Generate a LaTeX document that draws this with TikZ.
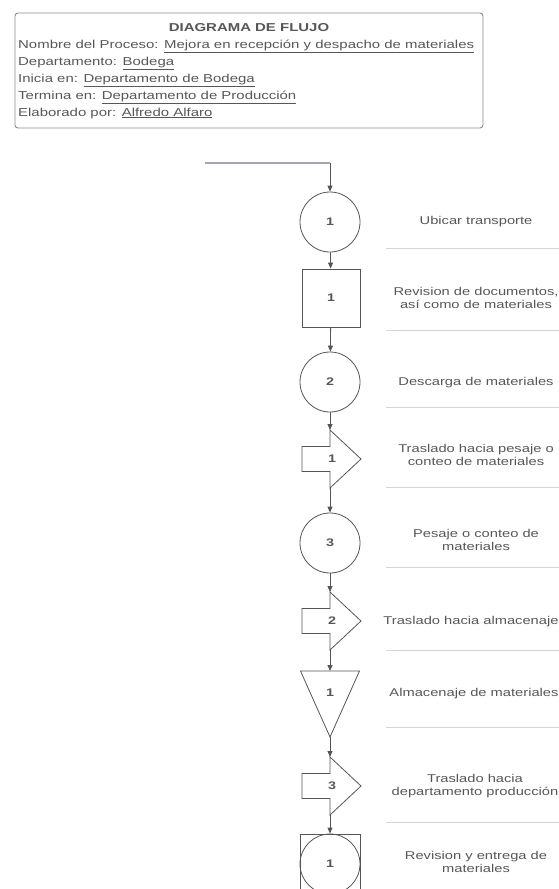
\documentclass[tikz,border=0pt]{standalone}
\usepackage{fontspec}
\setmainfont{Liberation Sans}
\newfontfamily\lab[FakeStretch=1.3]{Liberation Sans}
\usetikzlibrary{arrows.meta}
\definecolor{ink}{HTML}{575757}
\definecolor{lnk}{HTML}{555555}
\definecolor{divc}{HTML}{E0D0D6}
\definecolor{boxc}{HTML}{8A8A8A}
\definecolor{entc}{HTML}{A8A4B4}
\begin{document}
\begin{tikzpicture}[x=1pt,y=-1pt,
  sym/.style={draw=lnk,line width=0.8pt,text=ink,font=\lab\bfseries\fontsize{11}{12}\selectfont,inner sep=0pt},
  opc/.style={sym,circle,minimum size=60pt},
  insp/.style={sym,rectangle,minimum size=58pt},
  num/.style={text=ink,font=\lab\bfseries\fontsize{11}{12}\selectfont,inner sep=0pt},
  conn/.style={draw=lnk,line width=0.8pt,-{Triangle[length=6pt,width=5pt]}},
  plain/.style={draw=lnk,line width=0.8pt},
  entry/.style={draw=entc,line width=1.8pt},
  lbl/.style={text=ink,font=\lab\fontsize{11.3}{12.5}\selectfont,align=center,inner sep=0pt},
  divl/.style={draw=divc,line width=0.9pt},
  hdr/.style={text=ink,font=\lab\fontsize{11.5}{17}\selectfont,anchor=base west,inner sep=0pt},
  hbox/.style={draw=boxc,line width=0.9pt,rounded corners=3pt,inner sep=0pt},
  transp/.pic={
    \draw[plain] (0,-29) -- (31,0) -- (0,29) -- (0,12.5) -- (-28,12.5) -- (-28,-12.5) -- (0,-12.5) -- cycle;
    \coordinate (-top) at (0,-29);
    \coordinate (-bot) at (0,29);
  },
  storep/.pic={
    \draw[plain] (-29.5,-33) -- (29.5,-33) -- (0,33) -- cycle;
    \coordinate (-top) at (0,-33);
    \coordinate (-bot) at (0,33);
  }
]
\useasboundingbox (0,0) rectangle (559,889);
\clip (0,0) rectangle (559,889);

% header
\node[hbox,minimum width=468pt,minimum height=115pt] (hdrbox) at (249,70.5) {};
\node[text=ink,font=\lab\bfseries\fontsize{11.5}{14}\selectfont,anchor=base,inner sep=0pt] (title) at (249,31) {DIAGRAMA DE FLUJO};
\node[hdr] (h1) at (18,48) {Nombre del Proceso: \underline{Mejora en recepción y despacho de materiales}};
\node[hdr] (h2) at (18,65) {Departamento: \underline{Bodega}};
\node[hdr] (h3) at (18,82) {Inicia en: \underline{Departamento de Bodega}};
\node[hdr] (h4) at (18,99) {Termina en: \underline{Departamento de Producción}};
\node[hdr] (h5) at (18,116) {Elaborado por: \underline{Alfredo Alfaro}};

% entry line
\coordinate (start) at (205,163);
\coordinate (bend) at (330,163);
\draw[entry] (start) -- (bend);

% symbols
\node[opc] (c1) at (330,222) {1};
\node[insp] (sq1) at (331,298) {1};
\node[opc] (c2) at (330,382) {2};
\pic (t1) at (330,459) {transp};
\node[num] (n1) at (332,459) {1};
\node[opc] (c3) at (330,543) {3};
\pic (t2) at (330,621) {transp};
\node[num] (n2) at (332,621) {2};
\pic (s1) at (330,704) {storep};
\node[num] (n3) at (330,693) {1};
\pic (t3) at (330,786) {transp};
\node[num] (n4) at (332,786) {3};
\node[insp,minimum size=60pt] (cmb) at (330,864) {};
\node[opc] (c4) at (330,864) {1};

% connectors
\draw[conn] (bend) -- (c1);
\draw[conn] (c1) -- (sq1);
\draw[conn] (sq1) -- (c2);
\draw[conn] (c2) -- (t1-top);
\draw[conn] (t1-bot) -- (c3);
\draw[conn] (c3) -- (t2-top);
\draw[conn] (t2-bot) -- (s1-top);
\draw[conn] (s1-bot) -- (t3-top);
\draw[conn] (t3-bot) -- (cmb);

% labels
\node[lbl] (l1) at (476,222) {Ubicar transporte};
\node[lbl] (l2) at (476,298) {Revision de documentos,\\así como de materiales};
\node[lbl] (l3) at (476,383) {Descarga de materiales};
\node[lbl] (l4) at (476,455) {Traslado hacia pesaje o\\conteo de materiales};
\node[lbl] (l5) at (476,540) {Pesaje o conteo de\\materiales};
\node[lbl] (l6) at (471,622) {Traslado hacia almacenaje};
\node[lbl] (l7) at (474,694) {Almacenaje de materiales};
\node[lbl] (l8) at (475,786) {Traslado hacia\\departamento producción};
\node[lbl] (l9) at (476,862) {Revision y entrega de\\materiales};

% dividers
\foreach \yy in {248,330,407,487,567,650,727,822}{
  \draw[divl] (386,\yy) -- (559,\yy);
}
\end{tikzpicture}
\end{document}
